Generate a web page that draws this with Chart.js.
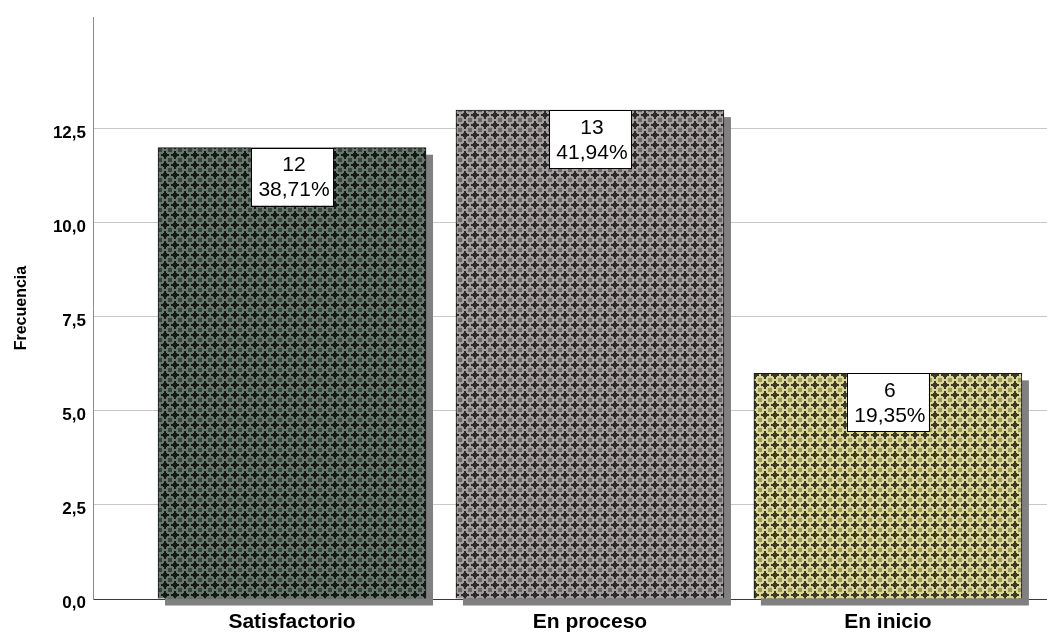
<!DOCTYPE html>
<html lang="es">
<head>
<meta charset="utf-8">
<title>Frecuencia</title>
<script src="https://cdn.jsdelivr.net/npm/chart.js@4"></script>
<style>
  html, body { margin: 0; padding: 0; background: #fff; }
  #wrap { width: 1047px; height: 632px; }
</style>
</head>
<body>
<div id="wrap"><canvas id="chart" width="1047" height="632"></canvas></div>
<script>
// datos
const categories = ['Satisfactorio', 'En proceso', 'En inicio'];
const counts = [12, 13, 6];
const percents = ['38,71%', '41,94%', '19,35%'];
const yTicks = [0, 2.5, 5, 7.5, 10, 12.5];

// trama de cruces tipo SPSS
function makePattern(light, mid, dark) {
  const c = document.createElement('canvas');
  c.width = 10; c.height = 10;
  const g = c.getContext('2d');
  g.fillStyle = light; g.fillRect(0, 0, 10, 10);
  g.fillStyle = mid;
  g.fillRect(0, 0, 2, 2); g.fillRect(8, 0, 2, 2);
  g.fillRect(0, 8, 2, 2); g.fillRect(8, 8, 2, 2);
  g.fillStyle = dark;
  g.fillRect(4, 1, 2, 8);
  g.fillRect(1, 4, 8, 2);
  g.fillRect(3, 3, 4, 4);
  return c.getContext('2d').createPattern(c, 'repeat');
}
const fills = [
  makePattern('#66776e', '#3a433e', '#141714'),
  makePattern('#a29c9c', '#6b6767', '#2b2a2a'),
  makePattern('#dad594', '#9c9862', '#3c3a24'),
];

const fontFam = '"Liberation Sans", Arial, sans-serif';

// sombra gris detrás de cada barra
const shadows = {
  id: 'shadows',
  beforeDatasetsDraw(chart) {
    const ctx = chart.ctx;
    ctx.save();
    ctx.fillStyle = '#808080';
    chart.getDatasetMeta(0).data.forEach(b => {
      const { x, y, width, base } = b.getProps(['x', 'y', 'width', 'base'], true);
      ctx.fillRect(x - width / 2 + 7, y + 7, width, base - y);
    });
    ctx.restore();
  }
};

// etiquetas: frecuencia + porcentaje
const boxLabels = {
  id: 'boxLabels',
  afterDatasetsDraw(chart) {
    const ctx = chart.ctx;
    ctx.save();
    chart.getDatasetMeta(0).data.forEach((b, i) => {
      const { x, y } = b.getProps(['x', 'y'], true);
      const w = 82, h = 58;
      ctx.fillStyle = '#fff';
      ctx.fillRect(x - w / 2, y, w, h);
      ctx.strokeStyle = '#000';
      ctx.lineWidth = 1;
      ctx.strokeRect(Math.round(x - w / 2) + 0.5, Math.round(y) + 0.5, w, h);
      ctx.fillStyle = '#000';
      ctx.font = '21px ' + fontFam;
      ctx.textAlign = 'center';
      ctx.textBaseline = 'middle';
      ctx.fillText(String(counts[i]), x + 2, y + 18);
      ctx.fillText(percents[i], x + 2, y + 43);
    });
    ctx.restore();
  }
};

new Chart(document.getElementById('chart'), {
  type: 'bar',
  data: {
    datasets: [{
      data: counts.map((v, i) => ({ x: i, y: v })),
      backgroundColor: fills,
      borderColor: '#1a1a1a',
      borderWidth: 1,
      barThickness: 268,
    }]
  },
  options: {
    responsive: false,
    animation: false,
    devicePixelRatio: 1,
    layout: { padding: { top: 15, right: 0, left: 0, bottom: 0 } },
    plugins: { legend: { display: false }, tooltip: { enabled: false } },
    scales: {
      x: {
        type: 'linear',
        offset: false,
        min: -0.668, max: 2.534,
        afterBuildTicks: s => { s.ticks = categories.map((_, i) => ({ value: i })); },
        afterFit: s => { s.height = 33; },
        grid: { display: false },
        border: { display: true, color: '#3a3a3a', width: 1 },
        ticks: {
          callback: v => categories[v] ?? '',
          color: '#000',
          font: { family: fontFam, size: 21, weight: 'bold' },
          padding: 3,
          maxRotation: 0,
          autoSkip: false,
        }
      },
      y: {
        min: 0, max: 15.47,
        afterBuildTicks: s => { s.ticks = yTicks.map(v => ({ value: v })); },
        afterFit: s => { s.width = 93; },
        grid: { color: '#c8c8c8', drawTicks: false },
        border: { display: true, color: '#8c8c8c', width: 1 },
        ticks: {
          callback: v => v.toFixed(1).replace('.', ','),
          color: '#000',
          font: { family: fontFam, size: 17, weight: 'bold' },
          padding: 7,
          labelOffset: 4,
        },
        title: {
          display: true,
          text: 'Frecuencia',
          color: '#000',
          font: { family: fontFam, size: 16, weight: 'bold' },
          padding: { top: 12, bottom: 0 },
        }
      }
    }
  },
  plugins: [shadows, boxLabels]
});
</script>
</body>
</html>
